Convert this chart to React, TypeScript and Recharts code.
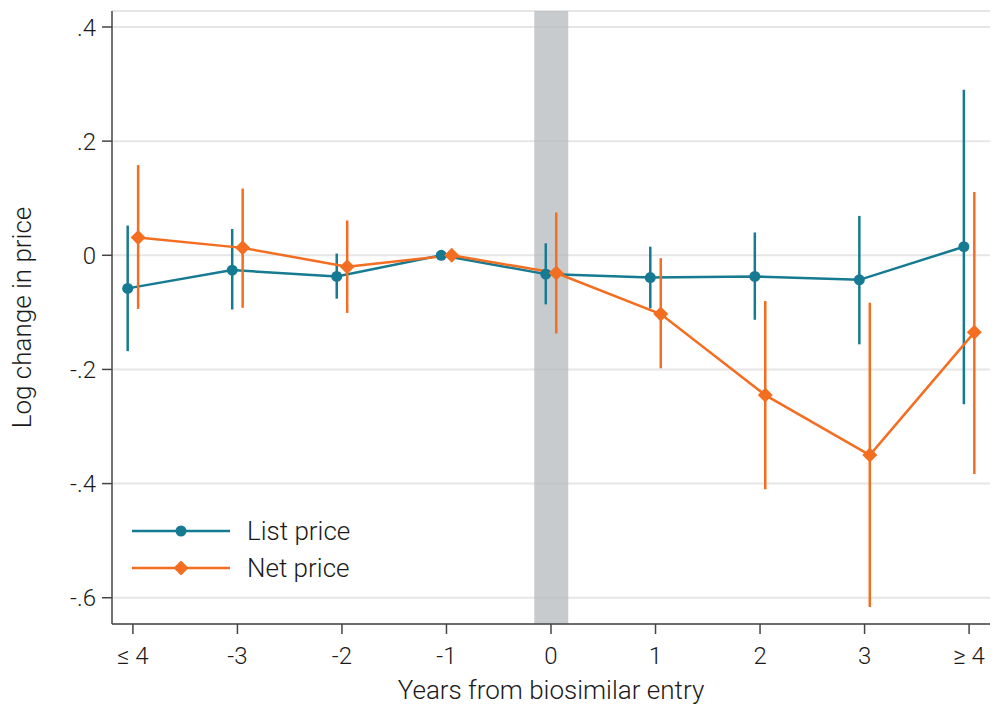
// Event study: list vs net price around biosimilar entry (recharts, numeric x with a small dodge).
import { CartesianGrid, ComposedChart, ErrorBar, Label, Legend, Line, ReferenceArea, XAxis, YAxis } from "recharts";

const PERIODS = [-4, -3, -2, -1, 0, 1, 2, 3, 4];
const TICK_LABELS = ["≤ 4", "-3", "-2", "-1", "0", "1", "2", "3", "≥ 4"];
const Y_TICKS = [-0.6, -0.4, -0.2, 0, 0.2, 0.4];

const LIST_EST = [-0.058, -0.026, -0.037, 0, -0.033, -0.039, -0.037, -0.043, 0.015];
const LIST_LO = [-0.168, -0.095, -0.076, 0, -0.086, -0.093, -0.113, -0.156, -0.261];
const LIST_HI = [0.052, 0.046, 0.003, 0, 0.021, 0.015, 0.04, 0.069, 0.29];

const NET_EST = [0.031, 0.013, -0.02, 0, -0.031, -0.103, -0.245, -0.35, -0.135];
const NET_LO = [-0.094, -0.092, -0.101, 0, -0.137, -0.198, -0.41, -0.616, -0.383];
const NET_HI = [0.158, 0.117, 0.061, 0, 0.075, -0.005, -0.08, -0.083, 0.111];

const BAND = [-0.16, 0.165];
const DODGE = 0.05;

const TEAL = "#167a92";
const ORANGE = "#f36e21";
const INK = "#1a1a1a";
const AXIS = "#444";
const FONT = "Roboto, 'Noto Sans', sans-serif";

const rows = (est: number[], lo: number[], hi: number[], shift: number) =>
  PERIODS.map((p, i) => ({ x: p + shift, y: est[i], err: [est[i] - lo[i], hi[i] - est[i]] }));

const listData = rows(LIST_EST, LIST_LO, LIST_HI, -DODGE);
const netData = rows(NET_EST, NET_LO, NET_HI, DODGE);

const fmtY = (v: number) => (v === 0 ? "0" : v.toFixed(1).replace("0.", "."));
const fmtX = (v: number) => TICK_LABELS[PERIODS.indexOf(Math.round(v))] ?? String(v);

function Diamond({ cx, cy, fill, r = 7.5 }: { cx?: number; cy?: number; fill: string; r?: number }) {
  if (cx == null || cy == null) return null;
  return <path d={`M${cx},${cy - r}L${cx + r},${cy}L${cx},${cy + r}L${cx - r},${cy}Z`} fill={fill} />;
}

function LegendBox() {
  const item = (label: string, color: string, marker: "circle" | "diamond") => (
    <div style={{ display: "flex", alignItems: "center", height: 36.6 }}>
      <svg width={115} height={20} style={{ overflow: "visible" }}>
        <line x1={0} y1={10} x2={98} y2={10} stroke={color} strokeWidth={2.5} />
        {marker === "circle" ? <circle cx={49} cy={10} r={5.5} fill={color} /> : <Diamond cx={49} cy={10} fill={color} />}
      </svg>
      <span style={{ fontFamily: FONT, fontWeight: 300, fontSize: 26, color: INK }}>{label}</span>
    </div>
  );
  return (
    <div>
      {item("List price", TEAL, "circle")}
      {item("Net price", ORANGE, "diamond")}
    </div>
  );
}

export default function App() {
  const tick = { fontFamily: FONT, fontWeight: 300, fontSize: 24, fill: INK };
  const title = { fontFamily: FONT, fontWeight: 300, fontSize: 26, fill: INK };
  return (
    <div style={{ position: "absolute", left: 0, top: 0 }}>
      <ComposedChart width={1001} height={715} margin={{ top: 11, right: 11, bottom: 11, left: 12 }}>
        <CartesianGrid vertical={false} stroke="#e6e6e6" strokeWidth={2} />
        <ReferenceArea x1={BAND[0]} x2={BAND[1]} fill="#b5babc" fillOpacity={0.75} stroke="none" />
        <XAxis type="number" dataKey="x" domain={[-4.2, 4.2]} ticks={PERIODS} tickFormatter={fmtX}
          allowDataOverflow height={80} tickSize={10} tickMargin={13} tick={tick}
          axisLine={{ stroke: AXIS, strokeWidth: 1.5 }} tickLine={{ stroke: AXIS, strokeWidth: 1.5 }}>
          <Label content={({ viewBox }: any) => (
            <text x={viewBox.x + viewBox.width / 2} y={690} textAnchor="middle" dominantBaseline="central"
              style={title}>Years from biosimilar entry</text>
          )} />
        </XAxis>
        <YAxis type="number" domain={[-0.646, 0.428]} ticks={Y_TICKS} tickFormatter={fmtY}
          allowDataOverflow width={100} tickSize={10} tickMargin={6} tick={tick}
          axisLine={{ stroke: AXIS, strokeWidth: 1.5 }} tickLine={{ stroke: AXIS, strokeWidth: 1.5 }}>
          <Label content={({ viewBox }: any) => {
            const cy = viewBox.y + viewBox.height / 2;
            return (
              <text x={22} y={cy} transform={`rotate(-90 22 ${cy})`} textAnchor="middle" dominantBaseline="central"
                style={title}>Log change in price</text>
            );
          }} />
        </YAxis>
        <Line data={listData} dataKey="y" stroke={TEAL} strokeWidth={2.5} isAnimationActive={false}
          dot={{ r: 5.5, fill: TEAL, stroke: "none" }} activeDot={false}>
          <ErrorBar dataKey="err" direction="y" width={0} stroke={TEAL} strokeWidth={2.5} isAnimationActive={false} />
        </Line>
        <Line data={netData} dataKey="y" stroke={ORANGE} strokeWidth={2.5} isAnimationActive={false}
          dot={(p: any) => <Diamond key={p.index} cx={p.cx} cy={p.cy} fill={ORANGE} />} activeDot={false}>
          <ErrorBar dataKey="err" direction="y" width={0} stroke={ORANGE} strokeWidth={2.5} isAnimationActive={false} />
        </Line>
        <Legend layout="vertical" align="center" verticalAlign="middle" content={() => <LegendBox />}
          wrapperStyle={{ left: 132, top: 513, width: 260, height: 80 }} />
      </ComposedChart>
    </div>
  );
}
